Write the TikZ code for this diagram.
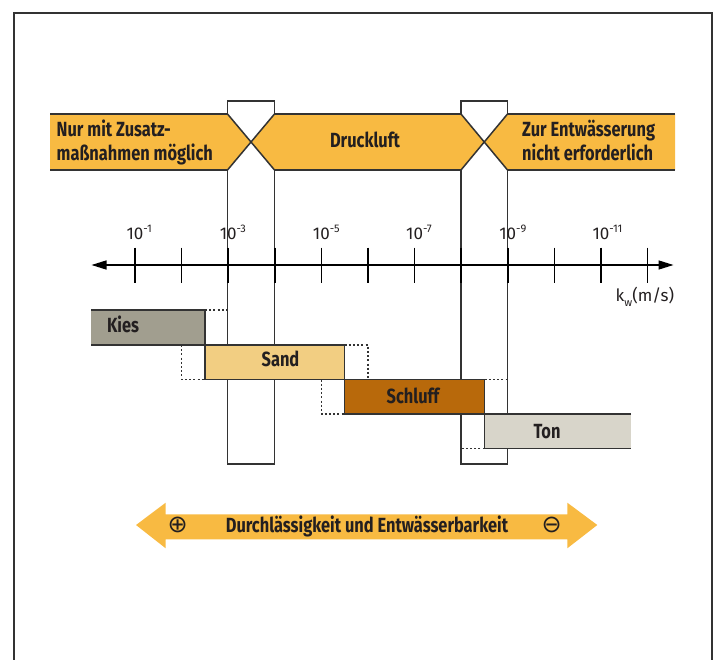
\documentclass[tikz,border=0pt]{standalone}
\usepackage{fontspec}
\setmainfont{Fira Sans}
\newfontfamily\condf[FakeStretch=0.8]{Fira Sans}
\newfontfamily\symf{DejaVu Sans}
\usetikzlibrary{arrows.meta}
\definecolor{bandc}{HTML}{F8BA42}
\definecolor{kiesc}{HTML}{A19E8F}
\definecolor{sandc}{HTML}{F2CE82}
\definecolor{schluffc}{HTML}{B8690B}
\definecolor{tonc}{HTML}{D8D5CA}
\definecolor{linec}{HTML}{333333}
\definecolor{txtc}{HTML}{231F20}
\begin{document}
\begin{tikzpicture}[x=1pt,y=-1pt,
  edge/.style={draw=linec,line width=1.5pt},
  dots/.style={draw=linec,line width=1.3pt,dash pattern=on 2pt off 2.2pt},
  soilbox/.style={inner sep=0pt,outer sep=0pt,anchor=north west},
  boldtext/.style={text=txtc,inner sep=0pt,font=\condf\bfseries\fontsize{20.5}{24}\selectfont},
  axtext/.style={text=txtc,inner sep=0pt,anchor=base,font=\fontsize{17}{20}\selectfont},
  tick/.style={draw=black,line width=1.6pt}]
\useasboundingbox (0,0) rectangle (719,660);
% frame
\draw[draw=linec,line width=1.4pt] (14,660) -- (14,13) -- (712,13) -- (712,660);
% band
\fill[bandc] (50,114) -- (227.5,114) -- (251,142) -- (227.5,170) -- (50,170) -- cycle;
\fill[bandc] (274.5,114) -- (461,114) -- (484,142) -- (461,170) -- (274.5,170) -- (251,142) -- cycle;
\fill[bandc] (507.5,114) -- (675,114) -- (675,170) -- (507.5,170) -- (484,142) -- cycle;
\draw[edge] (50,114) -- (227.5,114) (274.5,114) -- (461,114) (507.5,114) -- (675,114);
\draw[edge] (50,170) -- (227.5,170) (274.5,170) -- (461,170) (507.5,170) -- (675,170);
\draw[edge] (227.5,114) -- (274.5,170) (274.5,114) -- (227.5,170);
\draw[edge] (461,114) -- (507.5,170) (507.5,114) -- (461,170);
% vertical windows
\draw[edge] (227.5,114) -- (227.5,101) -- (274.5,101) -- (274.5,114);
\draw[edge] (227.5,170) -- (227.5,464) -- (274.5,464) -- (274.5,170);
\draw[edge] (461,114) -- (461,101) -- (507.5,101) -- (507.5,114);
\draw[edge] (461,170) -- (461,464) -- (507.5,464) -- (507.5,170);
% band texts
\node[boldtext,anchor=base west,align=left] (nur) at (56.5,136.7) {Nur mit Zusatz-};
\node[boldtext,anchor=base west,align=left] (mass) at (56.5,160.7) {maßnahmen möglich};
\node[boldtext,anchor=base] (druck) at (365,147.3) {Druckluft};
\node[boldtext,anchor=base west] (zur) at (522,136.7) {Zur Entwässerung};
\node[boldtext,anchor=base west] (nicht) at (522,160.7) {nicht erforderlich};
% axis
\coordinate (axL) at (91.5,265);
\coordinate (axR) at (673.5,265);
\draw[draw=black,line width=1.4pt,{Triangle[length=15pt,width=9pt]}-{Triangle[length=15pt,width=9pt]}] (axL) -- (axR);
\foreach \i in {0,...,11}{
  \draw[tick] ({135+46.6*\i},247.5) -- ({135+46.6*\i},283);
}
\foreach \i/\e in {0/-1,2/-3,4/-5,6/-7,8/-9,10/-11}{
  \node[axtext] (lab\i) at ({135+46.6*\i},239.3) {10\rlap{\raisebox{0.4em}{\fontsize{11}{11}\selectfont\e}}};
}
\node[axtext,anchor=base west] (kw) at (615.5,301.5) {k\raisebox{-0.3em}{\fontsize{11}{11}\selectfont w}(m/s)};
% soil boxes
\node[soilbox,fill=kiesc,minimum width=114pt,minimum height=35pt] (kies) at (91,310) {};
\node[soilbox,fill=sandc,minimum width=139.5pt,minimum height=34.5pt] (sand) at (205,345) {};
\node[soilbox,fill=schluffc,minimum width=140pt,minimum height=34.5pt] (schluff) at (344.5,379.5) {};
\node[soilbox,fill=tonc,minimum width=146.5pt,minimum height=34.5pt] (ton) at (484.5,414) {};
\draw[edge] (kies.north west) -- (kies.north east) -- (kies.south east) -- (kies.south west);
\draw[edge] (sand.north west) rectangle (sand.south east);
\draw[edge] (schluff.north west) rectangle (schluff.south east);
\draw[edge] (ton.north east) -- (ton.north west) -- (ton.south west) -- (ton.south east);
% dotted extensions
\draw[dots] (kies.north east) -- (228,310);
\draw[dots] (181.6,345) -- (181.6,379.5) -- (sand.south west);
\draw[dots] (sand.north east) -- (368,345) -- (368,379.5);
\draw[dots] (321.4,379.5) -- (321.4,414) -- (schluff.south west);
\draw[dots] (schluff.north east) -- (507.5,379.5);
\draw[dots] (ton.south west) -- (461,448.5);
% soil texts
\node[boldtext,anchor=base] (kiesT) at (123,332.3) {Kies};
\node[boldtext,anchor=base] (sandT) at (280.5,366.7) {Sand};
\node[boldtext,anchor=base] (schluffT) at (413,403.3) {Schluff};
\node[boldtext,anchor=base] (tonT) at (547,438.3) {Ton};
% bottom double arrow
\fill[bandc] (136,525) -- (165.7,502.7) -- (165.7,514.3) -- (567.3,514.3) -- (567.3,502.7) -- (597.3,525)
  -- (567.3,548.3) -- (567.3,539.3) -- (165.7,539.3) -- (165.7,548.3) -- cycle;
\node[boldtext,anchor=base] (perm) at (367,532.3) {Durchlässigkeit und Entwässerbarkeit};
\node[text=txtc,inner sep=0pt,font=\symf\fontsize{24}{24}\selectfont] (plus) at (177.7,525) {⊕};
\node[text=txtc,inner sep=0pt,font=\symf\fontsize{24}{24}\selectfont] (minus) at (551.7,525) {⊖};
\end{tikzpicture}
\end{document}
